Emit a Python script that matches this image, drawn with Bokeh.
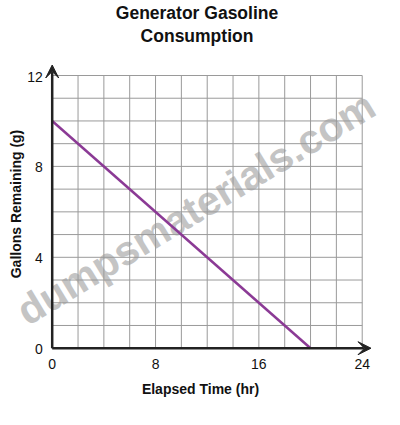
import math
from bokeh.plotting import figure
from bokeh.models import Range1d, Arrow, VeeHead
from bokeh.core.properties import value
from bokeh.embed import file_html
from bokeh.resources import INLINE

# ---- data ----
hours = [0, 20]
gallons = [10, 0]
x_ticks = [0, 8, 16, 24]
y_ticks = [0, 4, 8, 12]
x_max = 24
y_max = 12
x_grid_step = 2
y_grid_step = 1
title_lines = ["Generator Gasoline", "Consumption"]
x_label = "Elapsed Time (hr)"
y_label = "Gallons Remaining (g)"
watermark = "dumpsmaterials.com"

# ---- style / layout ----
FONT = "Liberation Sans"
AXIS_COLOR = "#222222"
GRID_COLOR = "#9a9a9a"
LINE_COLOR = "#8b3a95"
TEXT_COLOR = "#111111"
MARK_COLOR = "#c4c4c4"

W, H = 400, 425           # figure size
OX, OY = 51.7, 347.7      # pixel position of the data origin
XS, YS = 12.917, 22.725   # pixels per data unit


def px(sx):
    """screen x (px) -> data x"""
    return (sx - OX) / XS


def py(sy):
    """screen y (px) -> data y"""
    return (OY - sy) / YS


p = figure(width=W, height=H,
           x_range=Range1d(px(0), px(W)),
           y_range=Range1d(py(H), py(0)),
           output_backend="svg", toolbar_location=None,
           x_axis_location=None, y_axis_location=None,
           min_border=0, title=None)
p.outline_line_color = None
p.xgrid.visible = False
p.ygrid.visible = False
p.background_fill_color = "white"
p.border_fill_color = "white"

# watermark (under the grid)
p.text(x=[px(20)], y=[py(314)], text=[watermark], angle=0.545,
       text_align="left", text_baseline="alphabetic",
       text_font=value(FONT), text_font_size="41px", text_font_style="bold",
       text_color=MARK_COLOR)

# grid
gx = list(range(0, x_max + 1, x_grid_step))
gy = list(range(0, y_max + 1, y_grid_step))
p.segment(x0=gx, y0=[0] * len(gx), x1=gx, y1=[y_max] * len(gx),
          line_color=GRID_COLOR, line_width=1)
p.segment(x0=[0] * len(gy), y0=gy, x1=[x_max] * len(gy), y1=gy,
          line_color=GRID_COLOR, line_width=1)

# data line
p.line(hours, gallons, line_color=LINE_COLOR, line_width=2.5)

# axis lines with arrow heads
p.add_layout(Arrow(x_start=0, y_start=0, x_end=px(370.5), y_end=0,
                   line_color=AXIS_COLOR, line_width=2.5,
                   end=VeeHead(size=13, fill_color=AXIS_COLOR, line_color=AXIS_COLOR)))
p.add_layout(Arrow(x_start=0, y_start=0, x_end=0, y_end=py(64.5),
                   line_color=AXIS_COLOR, line_width=2.5,
                   end=VeeHead(size=13, fill_color=AXIS_COLOR, line_color=AXIS_COLOR)))

# tick labels
p.text(x=x_ticks, y=[py(363.2)] * len(x_ticks), text=[str(t) for t in x_ticks],
       text_align="center", text_baseline="alphabetic",
       text_font=value(FONT), text_font_size="14px", text_color=TEXT_COLOR)
p.text(x=[px(42.3)] * len(y_ticks), y=[t - 1 / YS for t in y_ticks],
       text=[str(t) for t in y_ticks],
       text_align="right", text_baseline="alphabetic",
       text_font=value(FONT), text_font_size="14px", text_color=TEXT_COLOR)

# axis titles
p.text(x=[px(200)], y=[py(388)], text=[x_label],
       text_align="center", text_baseline="alphabetic",
       text_font=value(FONT), text_font_size="14px", text_font_style="bold",
       text_color=TEXT_COLOR)
p.text(x=[px(15.5)], y=[py(203.5)], text=[y_label], angle=math.pi / 2,
       text_align="center", text_baseline="alphabetic",
       text_font=value(FONT), text_font_size="14px", text_font_style="bold",
       text_color=TEXT_COLOR)

# chart title (two centred lines)
p.text(x=[px(196.5)] * 2, y=[py(12.6), py(35.6)],
       text=title_lines, text_align="center", text_baseline="alphabetic",
       text_font=value(FONT), text_font_size="17.5px", text_font_style="bold",
       text_color=TEXT_COLOR)

open("out.html", "w").write(file_html(p, INLINE))
